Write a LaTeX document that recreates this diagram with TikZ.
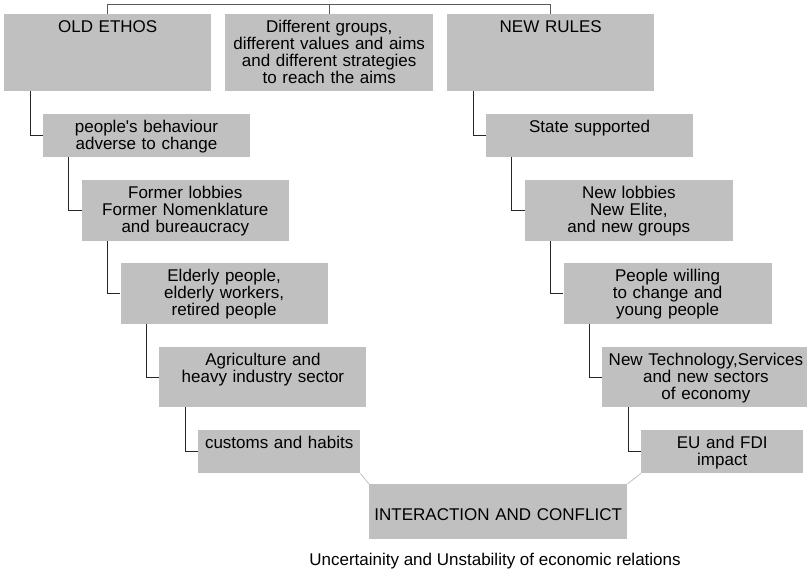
\documentclass[tikz,border=0pt]{standalone}
\usepackage{fontspec}
\setmainfont{Liberation Sans}
\definecolor{boxgray}{HTML}{C0C0C0}

\begin{document}
\begin{tikzpicture}[x=1pt, y=-1pt, inner sep=0pt,
  font=\fontsize{17}{16.8}\selectfont,
  box/.style={fill=boxgray, anchor=north west, text width=207pt, align=center, text height=18.5pt},
  link/.style={line width=1pt, black!85},
  bar/.style={line width=1pt, black!65},
  tie/.style={line width=0.8pt, boxgray}]
\useasboundingbox (0,0) rectangle (807,570);
% top row
\node (oldethos) at (4,14) [box, text depth=58.5pt] {OLD ETHOS};
\node (groups) at (225,14) [box, text width=208pt, text depth=58.5pt] {Different groups,\\ different values and aims\\ and different strategies\\ to reach the aims};
\node (newrules) at (447,14) [box, text depth=58.5pt] {NEW RULES};
% left staircase
\node (behaviour) at (42.8,114) [box, text depth=24.5pt] {people\textquotesingle s behaviour\\ adverse to change};
\node (oldlobbies) at (81.6,180) [box, text depth=42.5pt] {Former lobbies\\ Former Nomenklature\\ and bureaucracy};
\node (elderly) at (120.4,263) [box, text depth=42.5pt] {Elderly people,\\ elderly workers,\\ retired people};
\node (agriculture) at (159.2,347) [box, text depth=41.5pt] {Agriculture and\\ heavy industry sector};
\node (customs) at (198,430) [box, text width=162pt, text depth=24.5pt] {customs and habits};
% right staircase
\node (state) at (485.8,114) [box, text depth=24.5pt] {State supported};
\node (newlobbies) at (524.6,180) [box, text width=208pt, text depth=42.5pt] {New lobbies\\ New Elite,\\ and new groups};
\node (willing) at (563.4,263) [box, text width=208pt, text depth=42.5pt] {People willing\\ to change and\\ young people};
\node (newtech) at (602.2,347) [box, text depth=41.5pt] {New Technology,Services\\ and new sectors\\ of economy};
\node (eufdi) at (641,430) [box, text width=162pt, text depth=24.5pt] {EU and FDI\\ impact};
% bottom
\node (interaction) at (369,484) [box, text width=258pt, text height=36pt, text depth=19pt] {INTERACTION AND CONFLICT};
\node (uncertainty) at (495,561) {Uncertainity and Unstability of economic relations};

\coordinate (top) at (0,4);
\draw[bar] (oldethos.north) -- (oldethos.north |- top) -- (newrules.north |- top) -- (newrules.north);
\draw[bar] (groups.north) -- (groups.north |- top);

\draw[link] ([xshift=26pt]oldethos.south west) |- (behaviour.west);
\draw[link] ([xshift=26pt]behaviour.south west) |- (oldlobbies.west);
\draw[link] ([xshift=26pt]oldlobbies.south west) |- (elderly.west);
\draw[link] ([xshift=26pt]elderly.south west) |- (agriculture.west);
\draw[link] ([xshift=26pt]agriculture.south west) |- (customs.west);

\draw[link] ([xshift=26pt]newrules.south west) |- (state.west);
\draw[link] ([xshift=26pt]state.south west) |- (newlobbies.west);
\draw[link] ([xshift=26pt]newlobbies.south west) |- (willing.west);
\draw[link] ([xshift=26pt]willing.south west) |- (newtech.west);
\draw[link] ([xshift=26pt]newtech.south west) |- (eufdi.west);

\draw[tie] (customs.south east) -- (interaction.north west);
\draw[tie] (interaction.north east) -- (eufdi.south west);
\end{tikzpicture}
\end{document}
